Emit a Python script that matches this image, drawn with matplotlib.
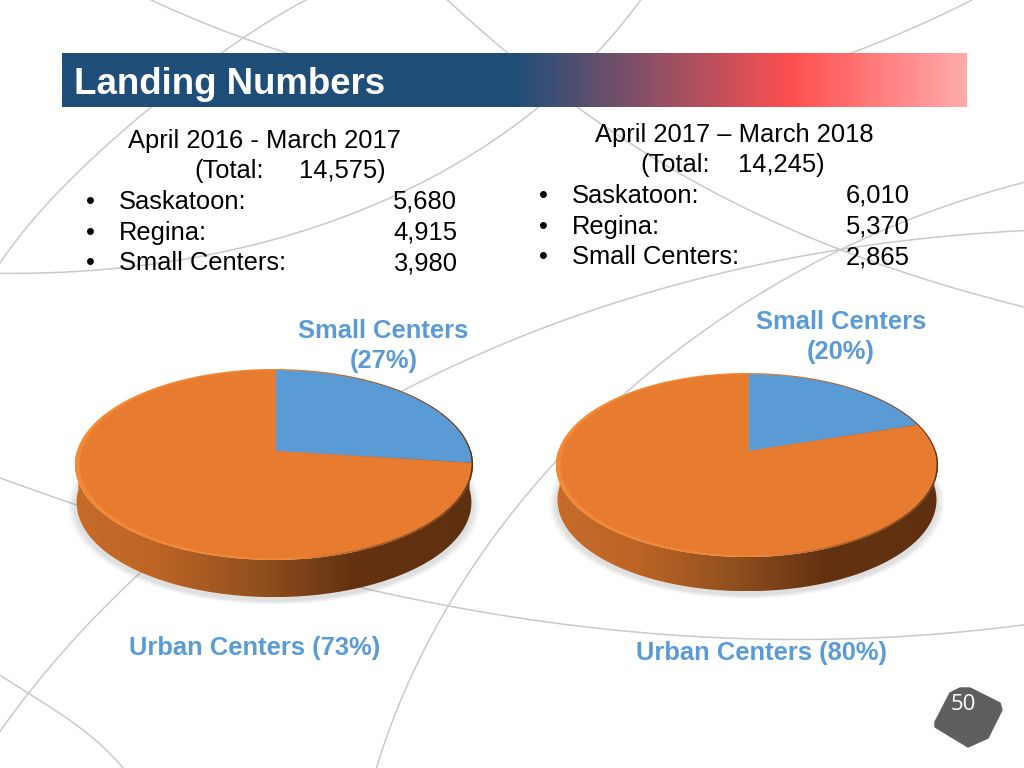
#!/usr/bin/python
# -*- coding: utf-8 -*-

import numpy as np
from matplotlib import pyplot as plt
from matplotlib.colors import LinearSegmentedColormap
from matplotlib.patches import Polygon
from matplotlib.transforms import Transform

plt.rcParams['font.family'] = ['Liberation Sans', 'DejaVu Sans']

title = 'Landing Numbers'

cities = ['Saskatoon:', 'Regina:', 'Small Centers:']
period_2016 = 'April 2016 - March 2017'
total_2016 = '14,575)'
numbers_2016 = ['5,680', '4,915', '3,980']
period_2017 = 'April 2017 \u2013 March 2018'
total_2017 = '14,245)'
numbers_2017 = ['6,010', '5,370', '2,865']

share_2016 = [27, 73]
share_2017 = [20, 80]

BLUE = '#5B9BD5'
ORANGE = '#E77B30'
LINE = '#C9C9C9'
BODY = 18.35
LABEL = 18.4

# background decoration, pixel positions along each curve
bg_curves = [
    [(151, 0), (243, 38), (290, 54)],
    [(306, 0), (220, 54), (150, 108), (67, 183), (0, 263)],
    [(0, 273), (120, 270), (210, 252), (393, 198), (512, 127), (539, 107), (595, 54), (641, 0)],
    [(447, 0), (510, 54), (577, 108), (679, 173), (765, 217), (840, 250), (1024, 307)],
    [(972, 0), (915, 27), (849, 54)],
    [(1024, 182), (912, 220), (840, 250), (762, 290), (667, 360), (625, 393), (555, 463), (512, 513),
     (450, 603), (400, 700), (377, 768)],
    [(1024, 230), (945, 237), (845, 250), (712, 273), (512, 342), (403, 390), (138, 575),
     (28, 693), (0, 732)],
    [(0, 478), (77, 505), (367, 590), (450, 605), (512, 617), (645, 633), (779, 640),
     (900, 636), (1024, 625)],
    [(0, 675), (28, 693), (83, 730), (123, 768)],
]
badge = [(960, 688), (970, 688), (1000, 703), (1002, 710), (988, 738), (968, 747), (935, 727), (935, 722),
         (950, 693)]


class PieProjection(Transform):
    """Tilted disc: unit circle coordinates to slide pixels."""
    input_dims = 2
    output_dims = 2

    def __init__(self, cx, cy, a, b, k, dx=0.0, dy=0.0, scale=1.0):
        super().__init__()
        self.cx, self.cy, self.a, self.b, self.k = cx, cy, a, b, k
        self.dx, self.dy, self.scale = dx, dy, scale

    def transform_non_affine(self, values):
        values = np.asarray(values, dtype=float)
        x, y = values[:, 0], values[:, 1]
        w = 1 + self.k * y
        out_x = self.cx + self.dx + self.scale * self.a * x / w
        out_y = self.cy + self.dy - self.scale * self.b * y / w
        return np.column_stack([out_x, out_y])


def smooth_curve(points, n=200):
    # low order fit along the chord length, the curves on the slide are long and gentle
    pts = np.array(points, dtype=float)
    s = np.r_[0, np.cumsum(np.hypot(*np.diff(pts, axis=0).T))]
    s = s / s[-1]
    deg = min(4, len(pts) - 1)
    t = np.linspace(0, 1, n)
    return np.polyval(np.polyfit(s, pts[:, 0], deg), t), np.polyval(np.polyfit(s, pts[:, 1], deg), t)


def disc_outline(proj, t):
    return proj.transform_non_affine(np.column_stack([np.cos(t), np.sin(t)]))


def gradient_fill(ax, outline, stops, zorder):
    poly = Polygon(outline, closed=True, facecolor='none', edgecolor='none', transform=ax.transData)
    ax.add_patch(poly)
    cmap = LinearSegmentedColormap.from_list('fill', stops)
    x0, x1 = outline[:, 0].min(), outline[:, 0].max()
    y0, y1 = outline[:, 1].min(), outline[:, 1].max()
    im = ax.imshow(np.linspace(0, 1, 256)[None, :], cmap=cmap, extent=(x0, x1, y1, y0), aspect='auto',
                   zorder=zorder, interpolation='bilinear')
    im.set_clip_path(poly)


def draw_pie(ax, values, cx, cy, a, b, k, depth):
    top = PieProjection(cx, cy, a, b, k)
    low = PieProjection(cx, cy, a, b, k, dy=depth, scale=0.992)
    t_all = np.linspace(0, 2 * np.pi, 240)
    t_front = np.linspace(np.pi, 2 * np.pi, 120)

    # soft shadow under the disc
    for grow, alpha in [(1.035, 0.05), (1.025, 0.06), (1.015, 0.07), (1.005, 0.08)]:
        shadow = PieProjection(cx, cy, a, b, k, dy=depth + 3, scale=grow)
        ax.add_patch(Polygon(disc_outline(shadow, t_all), closed=True, facecolor='#808080', edgecolor='none',
                             alpha=alpha, zorder=3))

    # side wall, front half only so nothing shows behind the top face
    wall = np.vstack([disc_outline(top, t_front), disc_outline(low, t_front)[::-1]])
    gradient_fill(ax, wall,
                  [(0.0, '#C56C2B'), (0.2, '#BE6526'), (0.45, '#93511F'), (0.7, '#643211'), (1.0, '#5F300F')], 4)

    # bevel round the top face
    gradient_fill(ax, disc_outline(top, t_all),
                  [(0.0, '#F58A36'), (0.55, '#F28434'), (0.74, '#A85A22'), (1.0, '#5F300F')], 5)

    wedges, _ = ax.pie(values, colors=[BLUE, ORANGE], startangle=90, counterclock=False, radius=1)
    face = PieProjection(cx, cy, a, b, k, dx=1.5, scale=0.985)
    for w in wedges:
        w.set_transform(face + ax.transData)
        w.set_linewidth(0)
        w.set_zorder(6)


def draw_block(ax, period, period_x, period_y, total, total_x, value_x, numbers, label_x, bullet_x, first_y,
               right_x, step=30.7):
    ax.text(period_x, period_y, period, fontsize=BODY, va='baseline', zorder=8)
    ax.text(total_x, period_y + step - 0.5, '(Total:', fontsize=BODY, va='baseline', zorder=8)
    ax.text(value_x, period_y + step - 0.5, total, fontsize=BODY, va='baseline', zorder=8)
    for i, city in enumerate(cities):
        y = first_y + i * step
        ax.text(bullet_x, y, '\u2022', fontsize=BODY, ha='center', va='baseline', zorder=8)
        ax.text(label_x, y, city, fontsize=BODY, va='baseline', zorder=8)
        ax.text(right_x, y, numbers[i], fontsize=BODY, ha='right', va='baseline', zorder=8)


fig = plt.figure(figsize=(10.24, 7.68), dpi=100)
ax = fig.add_axes([0, 0, 1, 1])

for curve in bg_curves:
    ax.plot(*smooth_curve(curve), color=LINE, linewidth=1.1, zorder=1)

# title bar
bar_cmap = LinearSegmentedColormap.from_list(
    'bar', [(0.0, '#1F4E79'), (0.5, '#1F4E79'), (0.81, '#FF5050'), (1.0, '#FFABAB')])
ax.imshow(np.linspace(0, 1, 512)[None, :], cmap=bar_cmap, extent=(62, 967, 107.5, 54), aspect='auto', zorder=2)
ax.text(74, 94, title, color='white', fontsize=26.4, fontweight='bold', va='baseline', zorder=8)

draw_block(ax, period_2016, 128, 148, total_2016, 194, 299, numbers_2016, 119, 90.5, 209, 457)
draw_block(ax, period_2017, 595, 142, total_2017, 640, 738, numbers_2017, 572, 543.5, 203, 910)

draw_pie(ax, share_2016, 274, 451, 197, 93.6, 0.141, 38)
draw_pie(ax, share_2017, 747, 451, 188.8, 89.9, 0.152, 35)

ax.text(383.5, 338, 'Small Centers', color=BLUE, fontsize=LABEL, fontweight='bold', ha='center', va='baseline', zorder=8)
ax.text(383.5, 368, '(27%)', color=BLUE, fontsize=LABEL, fontweight='bold', ha='center', va='baseline', zorder=8)
ax.text(841, 329, 'Small Centers', color=BLUE, fontsize=LABEL, fontweight='bold', ha='center', va='baseline', zorder=8)
ax.text(841, 359, '(20%)', color=BLUE, fontsize=LABEL, fontweight='bold', ha='center', va='baseline', zorder=8)
ax.text(255, 655, 'Urban Centers (73%)', color=BLUE, fontsize=LABEL, fontweight='bold', ha='center', va='baseline', zorder=8)
ax.text(761, 660, 'Urban Centers (80%)', color=BLUE, fontsize=LABEL, fontweight='bold', ha='center', va='baseline', zorder=8)

# page number badge
ax.add_patch(Polygon(badge, closed=True, facecolor='#5F5F5F', edgecolor='#5F5F5F', linewidth=1, joinstyle='round', zorder=7))
ax.text(963, 710, '50', color='white', fontsize=16, family='Open Sans', ha='center', va='baseline', zorder=8)

ax.set_aspect('auto')
ax.set_xlim(0, 1024)
ax.set_ylim(768, 0)
ax.set_xticks([])
ax.set_yticks([])
ax.set_frame_on(False)
fig.savefig('out.png', dpi=100, facecolor='white')
